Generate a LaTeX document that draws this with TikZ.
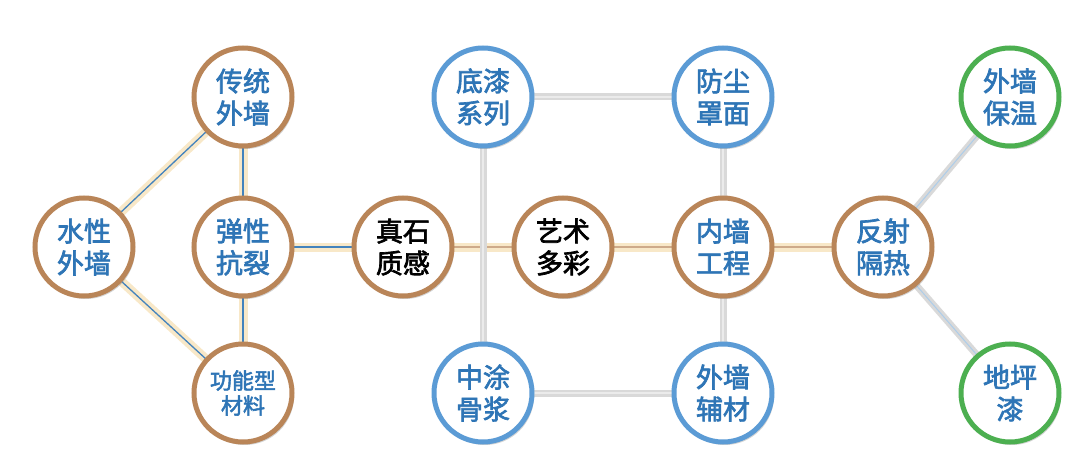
\documentclass[tikz,border=0pt]{standalone}
\usepackage{fontspec}
\newfontfamily\cjk{Noto Sans CJK SC}[AutoFakeBold=2.5]
\usetikzlibrary{shadows}
\definecolor{txtblue}{HTML}{2E75B6}
\definecolor{ringor}{HTML}{B98558}
\definecolor{ringbl}{HTML}{5B9BD5}
\definecolor{ringgr}{HTML}{4CAF50}
\definecolor{glow}{HTML}{F8E8C8}
\begin{document}
\begin{tikzpicture}[x=1pt,y=-1pt,
  bub/.style={circle,minimum size=98pt,inner sep=0pt,fill=white,line width=5pt,
     font=\cjk\bfseries\fontsize{27}{32}\selectfont,align=center,text=txtblue,
     drop shadow={shadow xshift=2pt,shadow yshift=-3pt,opacity=0.35}},
  ob/.style={bub,draw=ringor},
  bb/.style={bub,draw=ringbl},
  gb/.style={bub,draw=ringgr},
  glowline/.style={draw=glow,line width=9pt},
  blueline/.style={draw=txtblue!90,line width=1.3pt},
  orline/.style={draw=ringor!70,line width=1.5pt},
  grayline/.style={draw=black!15,line width=7pt},
  grayin/.style={draw=black!8,line width=2pt}]
\useasboundingbox (0,0) rectangle (1080,476);
\coordinate (a) at (84,247);
\coordinate (b) at (243,97);
\coordinate (c) at (243,247);
\coordinate (d) at (243,393);
\coordinate (e) at (403,247);
\coordinate (f) at (563,247);
\coordinate (g) at (483,97);
\coordinate (h) at (723,97);
\coordinate (i) at (723,247);
\coordinate (j) at (483,393);
\coordinate (k) at (723,393);
\coordinate (l) at (883,247);
\coordinate (m) at (1010,97);
\coordinate (n) at (1010,393);
% edges
\foreach \p/\q in {a/b,a/d,b/c,c/d,c/e}{\draw[glowline] (\p)--(\q); \draw[blueline] (\p)--(\q);}
\foreach \p/\q in {e/f,f/i,i/l}{\draw[glowline] (\p)--(\q); \draw[orline] (\p)--(\q);}
\foreach \p/\q in {g/h,g/j,j/k,h/k}{\draw[grayline] (\p)--(\q); \draw[grayin] (\p)--(\q);}
\foreach \p/\q in {l/m,l/n}{\draw[grayline] (\p)--(\q); \draw[draw=ringbl!50,line width=1pt] (\p)--(\q);}
% nodes
\node[ob] (na) at (a) {水性\\外墙};
\node[ob] (nb) at (b) {传统\\外墙};
\node[ob] (nc) at (c) {弹性\\抗裂};
\node[ob,font=\cjk\bfseries\fontsize{22}{25}\selectfont] (nd) at (d) {功能型\\材料};
\node[ob,text=black] (ne) at (e) {真石\\质感};
\node[ob,text=black] (nf) at (f) {艺术\\多彩};
\node[bb] (ng) at (g) {底漆\\系列};
\node[bb] (nh) at (h) {防尘\\罩面};
\node[ob] (ni) at (i) {内墙\\工程};
\node[bb] (nj) at (j) {中涂\\骨浆};
\node[bb] (nk) at (k) {外墙\\辅材};
\node[ob] (nl) at (l) {反射\\隔热};
\node[gb] (nm) at (m) {外墙\\保温};
\node[gb] (nn) at (n) {地坪\\漆};
\end{tikzpicture}
\end{document}
